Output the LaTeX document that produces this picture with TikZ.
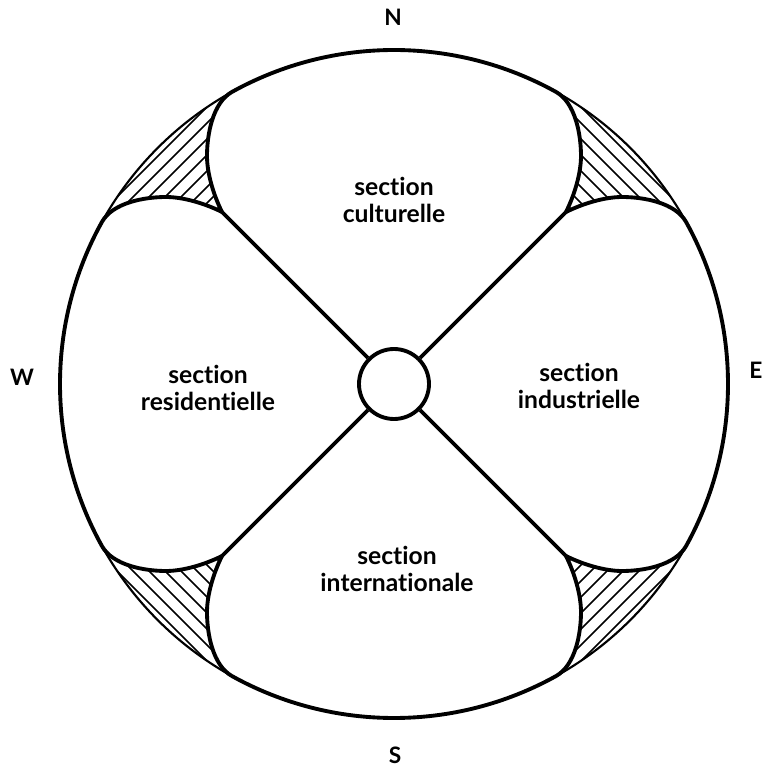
\documentclass[tikz,border=0pt]{standalone}
\usepackage{fontspec}
\setmainfont{Lato}[Ligatures=NoCommon]
\begin{document}
\begin{tikzpicture}[x=0.75pt,y=0.75pt,
  lobe/.style={line width=2.9pt, line join=round},
  ring/.style={line width=1.6pt},
  hatch/.style={line width=1.1pt},
  lbl/.style={font=\fontsize{18.5}{20.5}\selectfont\bfseries, align=center, inner sep=0pt},
  compass/.style={font=\fontsize{17}{19}\selectfont\bfseries, inner sep=0pt}]
\useasboundingbox (-394,-386) rectangle (369,384);
% hatched corners
\foreach \r in {0,90,180,270}{
  \begin{scope}[rotate=\r]
    \clip (172,172) .. controls (180,188) and (187,210) .. (187,228)
      .. controls (187,250) and (181.2,281.4) .. (61:334)
      arc[start angle=61, end angle=29, radius=334]
      .. controls (281.4,181.2) and (250,187) .. (228,187)
      .. controls (210,187) and (188,180) .. cycle;
    \foreach \c in {352,368,...,464}
      \draw[hatch] ({\c/2-120},{\c/2+120}) -- ({\c/2+120},{\c/2-120});
  \end{scope}
}
% outer ring
\draw[ring] (0,0) circle[radius=334];
% lobes
\foreach \r in {0,90,180,270}{
  \begin{scope}[rotate=\r]
    \draw[lobe] (-172,172) .. controls (-180,188) and (-187,210) .. (-187,228)
      .. controls (-187,250) and (-181.2,281.4) .. (119:334)
      arc[start angle=119, end angle=61, radius=334]
      .. controls (181.2,281.4) and (187,250) .. (187,228)
      .. controls (187,210) and (180,188) .. (172,172);
  \end{scope}
}
% hub and diagonals
\node[draw, circle, line width=2.9pt, minimum size=52.5pt, inner sep=0pt] (hub) at (0,0) {};
\coordinate (pne) at (172,172);
\coordinate (pnw) at (-172,172);
\coordinate (psw) at (-172,-172);
\coordinate (pse) at (172,-172);
\draw[lobe] (hub.45) -- (pne);
\draw[lobe] (hub.135) -- (pnw);
\draw[lobe] (hub.225) -- (psw);
\draw[lobe] (hub.315) -- (pse);
% labels
\node[lbl] (cult) at (0,184) {section\\culturelle};
\node[lbl] (resi) at (-186,-4) {section\\residentielle};
\node[lbl] (indu) at (185,-2) {section\\industrielle};
\node[lbl] (inte) at (3,-185) {section\\internationale};
% compass
\node[compass] (n) at (-1,367) {N};
\node[compass] (s) at (1,-371) {S};
\node[compass] (w) at (-372,7) {W};
\node[compass] (e) at (362,14) {E};
\end{tikzpicture}
\end{document}
